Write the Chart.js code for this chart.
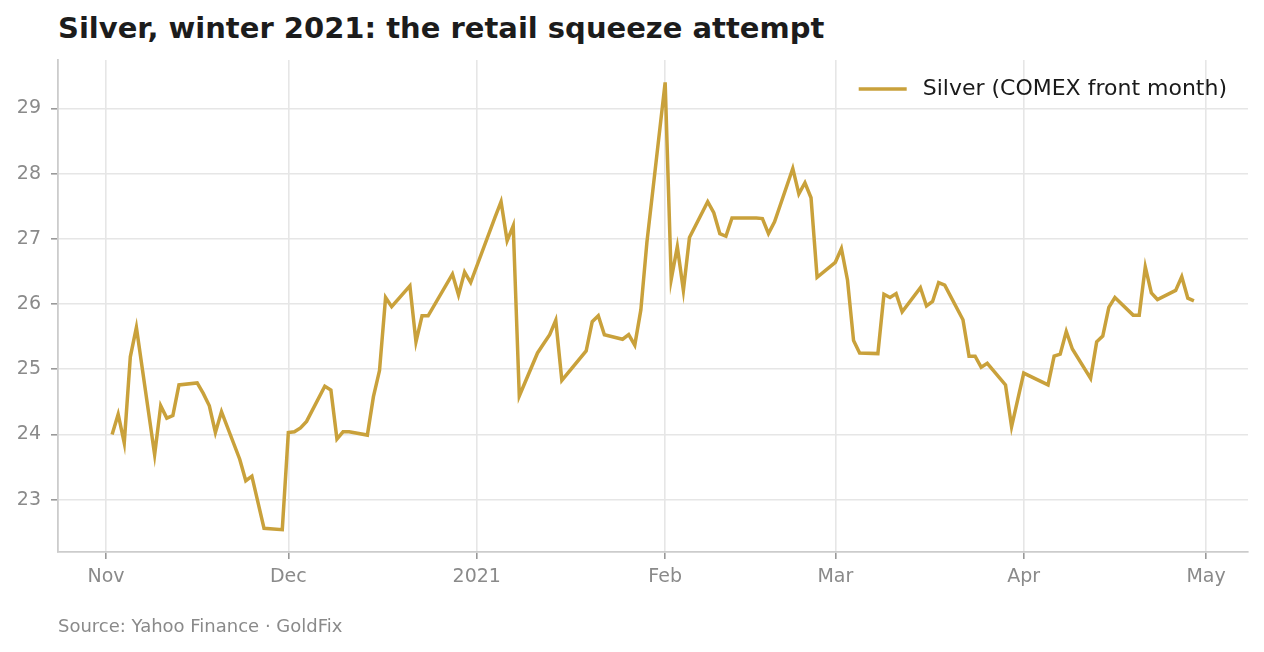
<!DOCTYPE html>
<html>
<head>
<meta charset="utf-8">
<script src="https://cdn.jsdelivr.net/npm/chart.js@4.4.1/dist/chart.umd.min.js"></script>
<style>
  html, body { margin: 0; padding: 0; background: #fff; }
  body { width: 1264px; height: 652px; position: relative; overflow: hidden; font-family: "DejaVu Sans", sans-serif; }
  #title { position: absolute; left: 58px; top: 14px; font-size: 29px; font-weight: bold; color: #1c1c1c; line-height: 29px; white-space: nowrap; }
  #source { position: absolute; left: 58px; top: 616px; font-size: 18px; color: #8a8a8a; line-height: 20px; white-space: nowrap; }
  #silverChart { position: absolute; left: 0; top: 0; }
</style>
</head>
<body>
<div id="title">Silver, winter 2021: the retail squeeze attempt</div>
<canvas id="silverChart" width="1264" height="652"></canvas>
<div id="source">Source: Yahoo Finance · GoldFix</div>
<script>
// trading days (front month close, USD/oz)
var dates = [
  "2020-11-02","2020-11-03","2020-11-04","2020-11-05","2020-11-06",
  "2020-11-09","2020-11-10","2020-11-11","2020-11-12","2020-11-13",
  "2020-11-16","2020-11-17","2020-11-18","2020-11-19","2020-11-20",
  "2020-11-23","2020-11-24","2020-11-25","2020-11-27","2020-11-30",
  "2020-12-01","2020-12-02","2020-12-03","2020-12-04",
  "2020-12-07","2020-12-08","2020-12-09","2020-12-10","2020-12-11",
  "2020-12-14","2020-12-15","2020-12-16","2020-12-17","2020-12-18",
  "2020-12-21","2020-12-22","2020-12-23","2020-12-24",
  "2020-12-28","2020-12-29","2020-12-30","2020-12-31",
  "2021-01-04","2021-01-05","2021-01-06","2021-01-07","2021-01-08",
  "2021-01-11","2021-01-12","2021-01-13","2021-01-14","2021-01-15",
  "2021-01-19","2021-01-20","2021-01-21","2021-01-22",
  "2021-01-25","2021-01-26","2021-01-27","2021-01-28","2021-01-29",
  "2021-02-01","2021-02-02","2021-02-03","2021-02-04","2021-02-05",
  "2021-02-08","2021-02-09","2021-02-10","2021-02-11","2021-02-12",
  "2021-02-16","2021-02-17","2021-02-18","2021-02-19",
  "2021-02-22","2021-02-23","2021-02-24","2021-02-25","2021-02-26",
  "2021-03-01","2021-03-02","2021-03-03","2021-03-04","2021-03-05",
  "2021-03-08","2021-03-09","2021-03-10","2021-03-11","2021-03-12",
  "2021-03-15","2021-03-16","2021-03-17","2021-03-18","2021-03-19",
  "2021-03-22","2021-03-23","2021-03-24","2021-03-25","2021-03-26",
  "2021-03-29","2021-03-30","2021-03-31","2021-04-01",
  "2021-04-05","2021-04-06","2021-04-07","2021-04-08","2021-04-09",
  "2021-04-12","2021-04-13","2021-04-14","2021-04-15","2021-04-16",
  "2021-04-19","2021-04-20","2021-04-21","2021-04-22","2021-04-23",
  "2021-04-26","2021-04-27","2021-04-28","2021-04-29"
];
var prices = [
  24.00, 24.31, 23.87, 25.19, 25.64,
  23.69, 24.44, 24.25, 24.29, 24.76,
  24.79, 24.63, 24.44, 24.03, 24.35,
  23.62, 23.29, 23.36, 22.56, 22.54,
  24.03, 24.04, 24.10, 24.20,
  24.74, 24.68, 23.93, 24.04, 24.04,
  23.99, 24.58, 24.98, 26.10, 25.96,
  26.28, 25.42, 25.82, 25.82,
  26.46, 26.14, 26.49, 26.33,
  27.33, 27.57, 26.97, 27.20, 24.59,
  25.25, 25.39, 25.53, 25.75, 24.83,
  25.28, 25.73, 25.82, 25.53,
  25.46, 25.53, 25.37, 25.91, 26.95,
  29.40, 26.38, 26.88, 26.21, 27.02,
  27.57, 27.40, 27.08, 27.04, 27.32,
  27.32, 27.31, 27.08, 27.26,
  28.08, 27.69, 27.86, 27.63, 26.41,
  26.64, 26.85, 26.37, 25.44, 25.25,
  25.24, 26.15, 26.10, 26.16, 25.88,
  26.25, 25.97, 26.04, 26.33, 26.29,
  25.76, 25.20, 25.20, 25.03, 25.09,
  24.76, 24.12, 24.53, 24.94,
  24.76, 25.20, 25.23, 25.58, 25.31,
  24.86, 25.42, 25.51, 25.95, 26.10,
  25.83, 25.83, 26.57, 26.17, 26.07,
  26.21, 26.42, 26.09, 26.05
];
var monthStarts = ["2020-11-01","2020-12-01","2021-01-01","2021-02-01","2021-03-01","2021-04-01","2021-05-01"];
var monthLabels = ["Nov","Dec","2021","Feb","Mar","Apr","May"];
var yTicks = [23, 24, 25, 26, 27, 28, 29];

var seriesLabel = "Silver (COMEX front month)";
var lineColor = "#c9a13b";

// day number counted from Nov 1 2020
var origin = Date.UTC(2020, 10, 1);
function dayNum(s) {
  var p = s.split("-");
  return (Date.UTC(+p[0], +p[1] - 1, +p[2]) - origin) / 86400000;
}

var points = dates.map(function (d, i) { return { x: dayNum(d), y: prices[i] }; });
var monthDays = monthStarts.map(dayNum);

// 5% margins like the original plot
var xFirst = points[0].x, xLast = points[points.length - 1].x;
var xPad = (xLast - xFirst) * 0.05;
var yLo = Math.min.apply(null, prices), yHi = Math.max.apply(null, prices);
var yPad = (yHi - yLo) * 0.05;

// legend drawn inside the plot, top right corner
var cornerLegend = {
  id: 'cornerLegend',
  afterDatasetsDraw: function (chart) {
    var c = chart.ctx, area = chart.chartArea;
    var ds = chart.data.datasets[0];
    c.save();
    c.font = "22px 'DejaVu Sans', sans-serif";
    c.textBaseline = 'middle';
    c.textAlign = 'right';
    var textRight = area.right - 21;
    var y = area.top + 29;
    var textW = c.measureText(ds.label).width;
    c.fillStyle = '#1a1a1a';
    c.fillText(ds.label, textRight, y);
    var lineEnd = textRight - textW - 16;
    c.strokeStyle = ds.borderColor;
    c.lineWidth = ds.borderWidth;
    c.beginPath();
    c.moveTo(lineEnd - 48, y);
    c.lineTo(lineEnd, y);
    c.stroke();
    c.restore();
  }
};

Chart.defaults.font.family = "'DejaVu Sans', sans-serif";

var ctx = document.getElementById('silverChart').getContext('2d');
var silverChart = new Chart(ctx, {
  type: 'line',
  data: {
    datasets: [{
      label: seriesLabel,
      data: points,
      borderColor: lineColor,
      backgroundColor: lineColor,
      borderWidth: 3.5,
      pointRadius: 0,
      tension: 0,
      fill: false
    }]
  },
  plugins: [cornerLegend],
  options: {
    responsive: false,
    animation: false,
    devicePixelRatio: 1,
    layout: { padding: { top: 60, right: 16, left: 0, bottom: 0 } },
    plugins: {
      tooltip: { enabled: false },
      legend: { display: false }
    },
    scales: {
      x: {
        type: 'linear',
        min: xFirst - xPad,
        max: xLast + xPad,
        afterBuildTicks: function (scale) {
          scale.ticks = monthDays.map(function (v) { return { value: v }; });
        },
        afterFit: function (scale) { scale.height = 100; },
        ticks: {
          color: '#8a8a8a',
          font: { size: 19 },
          padding: 7,
          maxRotation: 0,
          autoSkip: false,
          callback: function (value) {
            var i = monthDays.indexOf(value);
            return i >= 0 ? monthLabels[i] : '';
          }
        },
        grid: { color: '#e6e6e6', lineWidth: 1.6, tickLength: 7, tickColor: '#999999' },
        border: { display: true, color: '#cccccc', width: 1.8 }
      },
      y: {
        min: yLo - yPad,
        max: yHi + yPad,
        afterBuildTicks: function (scale) {
          scale.ticks = yTicks.map(function (v) { return { value: v }; });
        },
        afterFit: function (scale) { scale.width = 58; },
        ticks: {
          color: '#8a8a8a',
          font: { size: 19 },
          padding: 10
        },
        grid: { color: '#e6e6e6', lineWidth: 1.6, tickLength: 7, tickColor: '#999999' },
        border: { display: true, color: '#cccccc', width: 1.8 }
      }
    }
  }
});
</script>
</body>
</html>
